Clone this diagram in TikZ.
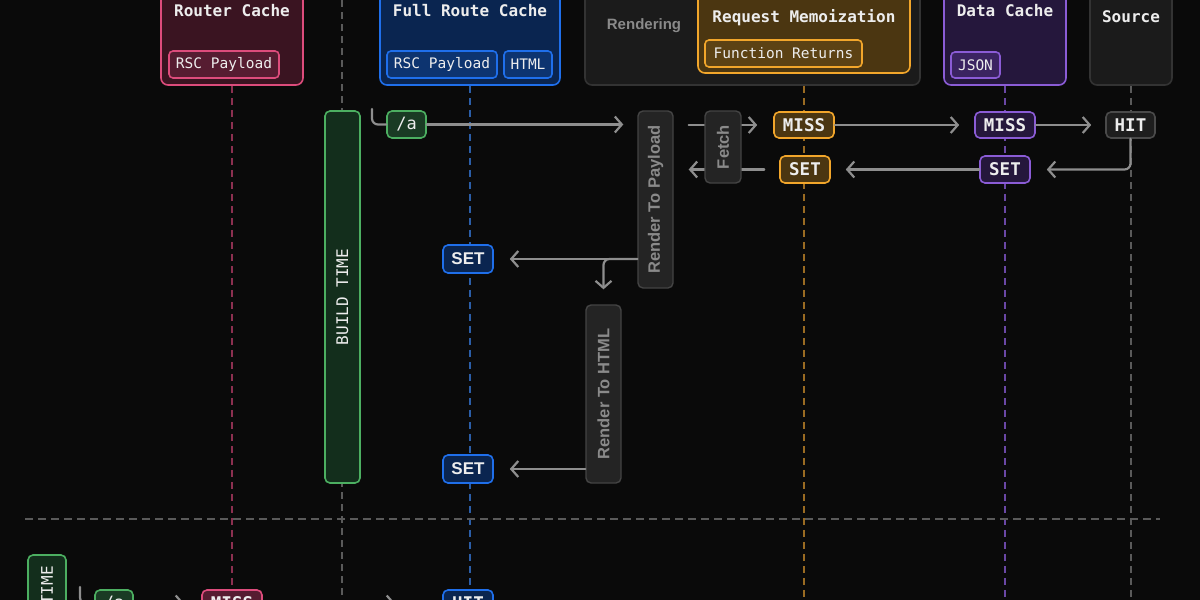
\documentclass[tikz,border=0pt]{standalone}
\usepackage{fontspec}
\setmainfont{Liberation Sans}
\setmonofont{DejaVu Sans Mono}
\usetikzlibrary{arrows.meta}
\definecolor{bg}{HTML}{0A0A0A}
\definecolor{txt}{HTML}{EDEDED}
\definecolor{pinkB}{HTML}{DD4C7C}
\definecolor{pinkF}{HTML}{3A1421}
\definecolor{pinkIF}{HTML}{561C31}
\definecolor{pinkL}{HTML}{8C3050}
\definecolor{blueB}{HTML}{1F6FEB}
\definecolor{blueF}{HTML}{0A2550}
\definecolor{blueIF}{HTML}{0D3470}
\definecolor{blueL}{HTML}{2B5EA8}
\definecolor{yelB}{HTML}{F2A62B}
\definecolor{yelF}{HTML}{4B3611}
\definecolor{yelIF}{HTML}{5C4214}
\definecolor{yelL}{HTML}{9A6B22}
\definecolor{purB}{HTML}{8B5CD6}
\definecolor{purF}{HTML}{25173C}
\definecolor{purIF}{HTML}{3B2461}
\definecolor{purL}{HTML}{6A47A5}
\definecolor{grpB}{HTML}{333333}
\definecolor{grpF}{HTML}{1B1B1B}
\definecolor{grayL}{HTML}{5A5A5A}
\definecolor{rendB}{HTML}{444444}
\definecolor{rendF}{HTML}{242424}
\definecolor{rendT}{HTML}{8A8A8A}
\definecolor{hitB}{HTML}{4A4A4A}
\definecolor{hitF}{HTML}{1E1E1E}
\definecolor{grnB}{HTML}{4CAF61}
\definecolor{grnF}{HTML}{132E1C}
\definecolor{grnIF}{HTML}{1A3B24}
\definecolor{arrc}{HTML}{8E8E8E}
\begin{document}
\begin{tikzpicture}[x=1pt,y=-1pt,
  grpbox/.style={draw, line width=1.6pt, rounded corners=7pt, inner sep=0pt},
  ttl/.style={text=txt, font=\ttfamily\bfseries\fontsize{16}{16}\selectfont, inner sep=0pt},
  inbox/.style={draw, line width=1.6pt, rounded corners=4pt, inner sep=0pt, minimum height=27pt, text=txt, font=\ttfamily\fontsize{14.5}{15}\selectfont},
  tag/.style={draw, line width=1.6pt, rounded corners=5pt, inner sep=0pt, minimum height=27pt, text=txt, font=\ttfamily\bfseries\fontsize{17.5}{18}\selectfont},
  ytag/.style={tag, draw=yelB, fill=yelF},
  ptag/.style={tag, draw=purB, fill=purF},
  btag/.style={tag, draw=blueB, fill=blueF},
  rtag/.style={tag, draw=pinkB, fill=pinkIF},
  gtag/.style={tag, draw=grnB, fill=grnIF, font=\ttfamily\fontsize{17}{17}\selectfont},
  htag/.style={tag, draw=hitB, fill=hitF},
  rendbox/.style={draw=rendB, fill=rendF, line width=1.4pt, rounded corners=5pt, inner sep=0pt, minimum width=35pt, text=rendT, font=\bfseries\fontsize{16.5}{17}\selectfont},
  timebox/.style={draw=grnB, fill=grnF, line width=1.6pt, rounded corners=5pt, inner sep=0pt, text=txt, font=\ttfamily\fontsize{16}{16}\selectfont},
  life/.style={line width=1.4pt, dash pattern=on 7pt off 5pt},
  arr/.style={draw=arrc, line width=2.2pt, line cap=round, line join=round, rounded corners=6pt, -{Straight Barb[length=7pt,width=16pt]}},
  link/.style={draw=arrc, line width=2.2pt, line cap=round, rounded corners=6pt}
]
\useasboundingbox (0,0) rectangle (1200,600);
\fill[bg] (0,0) rectangle (1200,600);
\clip (0,0) rectangle (1200,600);

% bottom coordinates for lifelines
\coordinate (bot1) at (232,600);
\coordinate (gtop) at (342,0);
\coordinate (gbot) at (342,600);
\coordinate (bot3) at (470,600);
\coordinate (bot4) at (804,600);
\coordinate (bot5) at (1005,600);
\coordinate (bot6) at (1131,600);
\coordinate (sepL) at (25,519);
\coordinate (sepR) at (1160,519);

% group boxes
\node[grpbox, draw=pinkB, fill=pinkF, minimum width=142pt, minimum height=115pt] (router) at (232,27.5) {};
\node[grpbox, draw=blueB, fill=blueF, minimum width=180pt, minimum height=115pt] (frc) at (470,27.5) {};
\node[grpbox, draw=grpB, fill=grpF, minimum width=335pt, minimum height=115pt] (rend) at (752.5,27.5) {};
\node[grpbox, draw=yelB, fill=yelF, minimum width=212pt, minimum height=103pt] (memo) at (804,21.5) {};
\node[grpbox, draw=purB, fill=purF, minimum width=122pt, minimum height=115pt] (data) at (1005,27.5) {};
\node[grpbox, draw=grpB, fill=grpF, minimum width=82pt, minimum height=115pt] (src) at (1131,27.5) {};

% lifelines
\draw[life, draw=pinkL] (router.south) -- (bot1);
\draw[life, draw=grayL] (gtop) -- (gbot);
\draw[life, draw=blueL] (frc.south) -- (bot3);
\draw[life, draw=yelL] (rend.south -| memo.south) -- (bot4);
\draw[life, draw=purL] (data.south) -- (bot5);
\draw[life, draw=grayL] (src.south) -- (bot6);
\draw[line width=1.8pt, draw=grayL, dash pattern=on 8pt off 5pt] (sepL) -- (sepR);

% titles
\node[ttl] (routerT) at (232,11) {Router Cache};
\node[ttl] (frcT) at (470,11) {Full Route Cache};
\node[text=rendT, font=\bfseries\fontsize{15}{15}\selectfont, inner sep=0pt] (rendT) at (644,26) {Rendering};
\node[ttl] (memoT) at (804,18) {Request Memoization};
\node[ttl] (dataT) at (1005,11) {Data Cache};
\node[ttl] (srcT) at (1131,17) {Source};

% inner boxes
\node[inbox, draw=pinkB, fill=pinkIF, minimum width=110pt] (rscA) at (224,64.5) {RSC Payload};
\node[inbox, draw=blueB, fill=blueIF, minimum width=110pt] (rscB) at (442,64.5) {RSC Payload};
\node[inbox, draw=blueB, fill=blueIF, minimum width=48pt] (html) at (528,64.5) {HTML};
\node[inbox, draw=yelB, fill=yelIF, minimum width=157pt] (func) at (783.5,53.5) {Function Returns};
\node[inbox, draw=purB, fill=purIF, minimum width=49pt, minimum height=26pt] (json) at (975.5,65) {JSON};

% build time
\node[timebox, minimum width=35pt, minimum height=372pt] (build) at (342.5,297) {\rotatebox{90}{BUILD TIME}};

% tags (row 1)
\node[gtag, minimum width=39pt] (a) at (406.5,124.5) {/a};
\node[ytag, minimum width=60pt, minimum height=26pt] (m1) at (804,125) {MISS};
\node[ptag, minimum width=60pt, minimum height=26pt] (m2) at (1005,125) {MISS};
\node[htag, minimum width=49pt, minimum height=26pt] (hit) at (1130.5,125) {HIT};
\node[ptag, minimum width=50pt] (s2) at (1005,169.5) {SET};
\node[ytag, minimum width=50pt] (s1) at (805,169.5) {SET};
\node[btag, minimum width=50pt, minimum height=28pt, font=\bfseries\fontsize{17}{17}\selectfont] (set1) at (468,259) {SET};
\node[btag, minimum width=50pt, minimum height=28pt, font=\bfseries\fontsize{17}{17}\selectfont] (set2) at (468,469) {SET};

% render boxes
\node[rendbox, minimum height=177pt] (rtp) at (655.5,199.5) {\rotatebox{90}{Render To Payload}};
\node[rendbox, minimum height=178pt] (rth) at (603.5,394) {\rotatebox{90}{Render To HTML}};

% connectors row 1
\coordinate (aStart) at (372,109);
\path[link] (aStart) -- (aStart |- a.west) -- (a.west);
\path[arr, shorten >=14pt] (a.east) -- (a.east -| rtp.west);
\path[arr, shorten <=15pt, shorten >=16pt] (rtp.east |- m1.west) -- (m1.west);
\path[arr, shorten <=15pt, shorten >=15pt] (s1.west) -- (s1.west -| rtp.east);
\node[rendbox, minimum width=36pt, minimum height=72pt] (fetch) at (723,147) {\rotatebox{90}{Fetch}};
\path[arr, shorten >=15pt] (m1.east) -- (m2.west);
\path[arr, shorten >=14pt] (m2.east) -- (hit.west);
\path[arr, shorten >=16pt] (hit.south) -- (hit.south |- s2.east) -- (s2.east);
\path[arr, shorten >=15pt] (s2.west) -- (s1.east);

% render to payload outputs
\path[arr, shorten >=16pt] (rtp.west |- set1.east) -- (set1.east);
\path[arr, shorten >=15pt] (rtp.west |- set1.east) -- (rth.north |- set1.east) -- (rth.north);
\path[arr, shorten >=16pt] (rth.west |- set2.east) -- (set2.east);

% request time (bottom, cut off by the frame as in the reference)
\node[timebox, minimum width=38pt, minimum height=95pt] (rtbox) at (47,602.5) {};
\node[text=txt, font=\ttfamily\fontsize{16}{16}\selectfont, inner sep=0pt, rotate=90, anchor=east] (rtlabel) at (47,566) {TIME};
\node[gtag, minimum width=38pt] (a2) at (114,603.5) {/a};
\node[rtag, minimum width=60pt] (m3) at (232,603.5) {MISS};
\node[btag, minimum width=50pt] (hit2) at (468,603.5) {HIT};
\coordinate (a2Start) at (80,587);
\path[link] (a2Start) -- (a2Start |- a2.west) -- (a2.west);
\path[arr, shorten >=17pt] (a2.east) -- (m3.west);
\path[arr, shorten >=47pt] (m3.east) -- (hit2.west);
\end{tikzpicture}
\end{document}
